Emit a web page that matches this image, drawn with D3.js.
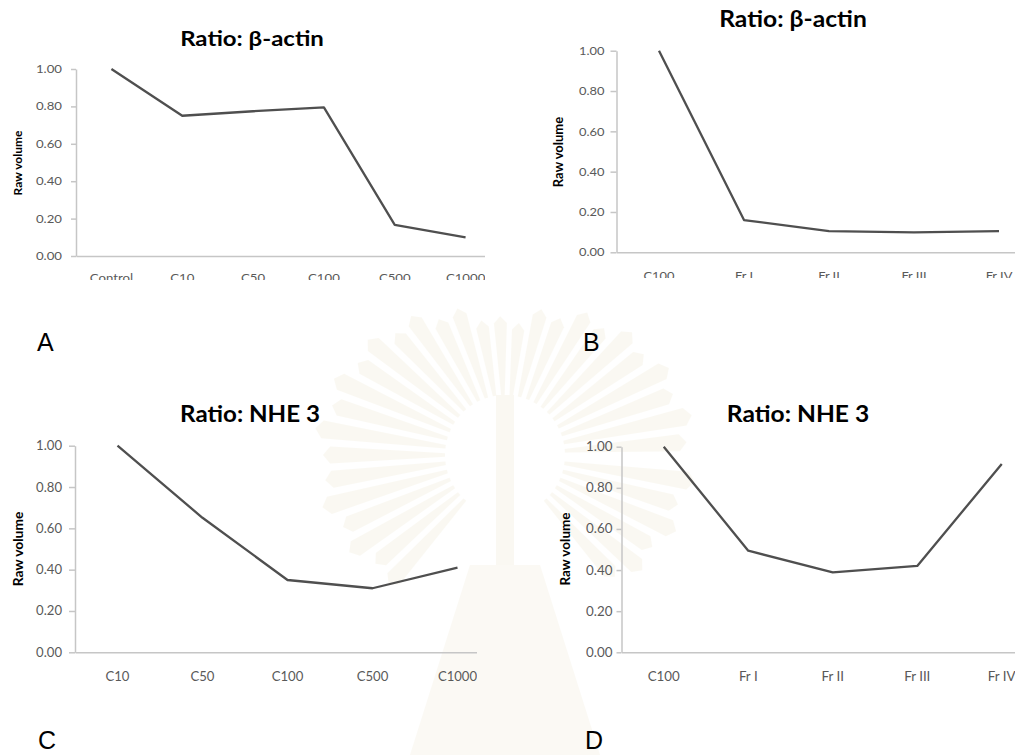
<!DOCTYPE html>
<html>
<head>
<meta charset="utf-8">
<script src="https://cdn.jsdelivr.net/npm/d3@7"></script>
<style>
  html, body { margin: 0; padding: 0; background: #ffffff; }
  svg { display: block; }
</style>
</head>
<body>
<svg id="fig" width="1015" height="755"></svg>
<script>
// ---- data ----
const catsA = ["Control", "C10", "C50", "C100", "C500", "C1000"];
const valsA = [1.00, 0.75, 0.774, 0.795, 0.166, 0.10];

const catsB = ["C100", "Fr I", "Fr II", "Fr III", "Fr IV"];
const valsB = [1.00, 0.16, 0.105, 0.099, 0.105];

const catsC = ["C10", "C50", "C100", "C500", "C1000"];
const valsC = [1.00, 0.651, 0.35, 0.31, 0.41];

const catsD = ["C100", "Fr I", "Fr II", "Fr III", "Fr IV"];
const valsD = [1.00, 0.494, 0.389, 0.42, 0.916];

const yTicks = [0, 0.2, 0.4, 0.6, 0.8, 1.0];
const titles = ["Ratio: β-actin", "Ratio: β-actin", "Ratio: NHE 3", "Ratio: NHE 3"];
const letters = ["A", "B", "C", "D"];
const yTitle = "Raw volume";

// ---- layout of the four panels ----
const layout = [
  { cats: catsA, vals: valsA, x0: 76, xEnd: 501, yBottom: 256, yTop: 69,
    clip: [0, 0, 485, 280], titleX: 252, titleY: 46, titleSize: 20, sx: 1.2,
    tickSize: 11, tick: 5, tickPad: 9, catTop: 18, yLabX: 22, yLabY: 163, yLabSize: 12,
    letterX: 37, letterY: 351 },
  { cats: catsB, vals: valsB, x0: 616.5, xEnd: 1041.5, yBottom: 252.3, yTop: 50.7,
    clip: [500, 0, 515, 278], titleX: 793, titleY: 26.7, titleSize: 22, sx: 1.12,
    tickSize: 11.5, tick: 6, tickPad: 6, catTop: 19.5, yLabX: 563, yLabY: 152, yLabSize: 13,
    letterX: 583, letterY: 351 },
  { cats: catsC, vals: valsC, x0: 75, xEnd: 500, yBottom: 652.3, yTop: 445.7,
    clip: [0, 380, 477, 375], titleX: 250, titleY: 421.7, titleSize: 23, sx: 1.05,
    tickSize: 12.5, tick: 6, tickPad: 7, catTop: 19.4, yLabX: 23, yLabY: 549, yLabSize: 13.8,
    letterX: 38, letterY: 749 },
  { cats: catsD, vals: valsD, x0: 621.5, xEnd: 1044, yBottom: 652.3, yTop: 446.7,
    clip: [500, 380, 515, 375], titleX: 798, titleY: 421.7, titleSize: 23, sx: 1.07,
    tickSize: 12.5, tick: 5, tickPad: 4, catTop: 19.4, yLabX: 570, yLabY: 549, yLabSize: 13.5,
    letterX: 585, letterY: 749 }
];

const svg = d3.select("#fig");
const defs = svg.append("defs");

// ---- very faint emblem behind the charts: rays, stem and base ----
const wm = svg.append("g").attr("opacity", 0.3);
const cx = 505, cy = 455;
const rayAngles = d3.range(-180, 1, 8).concat(d3.range(8, 50, 8), d3.range(132, 180, 8));
rayAngles.forEach((a, i) => {
  const t = a * Math.PI / 180, w = 2.8 * Math.PI / 180;
  const r0 = 60, r1 = 120 + 55 * Math.abs(Math.cos(t)) + (i % 2) * 10;
  const p = [
    [cx + r0 * Math.cos(t - w * 0.6), cy + r0 * Math.sin(t - w * 0.6)],
    [cx + r1 * Math.cos(t - w), cy + r1 * Math.sin(t - w)],
    [cx + (r1 + 7) * Math.cos(t), cy + (r1 + 7) * Math.sin(t)],
    [cx + r1 * Math.cos(t + w), cy + r1 * Math.sin(t + w)],
    [cx + r0 * Math.cos(t + w * 0.6), cy + r0 * Math.sin(t + w * 0.6)]
  ];
  wm.append("path").attr("d", d3.line()(p) + "Z").attr("fill", "#f1ebd6");
});
wm.append("rect").attr("x", 496).attr("y", 395).attr("width", 18).attr("height", 170)
  .attr("fill", "#f1ebd6");
wm.append("path")
  .attr("d", d3.line()([[470, 565], [540, 565], [600, 755], [410, 755]]) + "Z")
  .attr("fill", "#f3eedc");

// ---- panels ----
layout.forEach((L, i) => {
  const id = "clip" + i;
  defs.append("clipPath").attr("id", id).append("rect")
    .attr("x", L.clip[0]).attr("y", L.clip[1]).attr("width", L.clip[2]).attr("height", L.clip[3]);

  const g = svg.append("g").attr("clip-path", `url(#${id})`);

  const x = d3.scaleBand().domain(L.cats).range([L.x0, L.xEnd]);
  const y = d3.scaleLinear().domain([0, 1]).range([L.yBottom, L.yTop]);

  // y axis
  const ya = g.append("g").attr("transform", `translate(${L.x0},0)`)
    .call(d3.axisLeft(y).tickValues(yTicks).tickFormat(d3.format(".2f"))
      .tickSizeInner(L.tick).tickSizeOuter(0).tickPadding(L.tickPad));
  ya.select(".domain").attr("stroke", "#c6c6c6").attr("stroke-width", 1.5);
  ya.selectAll(".tick line").attr("stroke", "#c6c6c6").attr("stroke-width", 1.5);
  ya.selectAll(".tick text")
    .attr("x", -(L.tick + L.tickPad) / L.sx)
    .attr("transform", `scale(${L.sx},1)`)
    .attr("fill", "#595959")
    .style("font-family", "Lato, 'Open Sans', sans-serif")
    .style("font-size", L.tickSize + "px");

  // x axis
  const xa = g.append("g").attr("transform", `translate(0,${L.yBottom})`)
    .call(d3.axisBottom(x).tickSize(0).tickPadding(L.catTop));
  xa.select(".domain").attr("stroke", "#c6c6c6").attr("stroke-width", 1.5);
  xa.selectAll(".tick text")
    .attr("transform", `scale(${L.sx},1)`)
    .attr("fill", "#595959")
    .style("font-family", "Lato, 'Open Sans', sans-serif")
    .style("font-size", L.tickSize + "px");

  // data line
  const line = d3.line()
    .x(d => x(d.c) + x.bandwidth() / 2)
    .y(d => y(d.v));
  g.append("path")
    .datum(L.cats.map((c, k) => ({ c, v: L.vals[k] })))
    .attr("d", line)
    .attr("fill", "none")
    .attr("stroke", "#4f4f4f")
    .attr("stroke-width", 2.3)
    .attr("stroke-linejoin", "round");

  // chart title
  svg.append("g").attr("transform", `translate(${L.titleX},${L.titleY}) scale(${L.sx},1)`)
    .append("text")
    .attr("text-anchor", "middle")
    .attr("fill", "#000000")
    .style("font-family", "Lato, 'Open Sans', sans-serif")
    .style("font-weight", "bold")
    .style("font-size", L.titleSize + "px")
    .text(titles[i]);

  // y axis title
  svg.append("text")
    .attr("transform", `translate(${L.yLabX},${L.yLabY}) rotate(-90)`)
    .attr("text-anchor", "middle")
    .attr("fill", "#000000")
    .style("font-family", "Lato, 'Open Sans', sans-serif")
    .style("font-weight", "bold")
    .style("font-size", L.yLabSize + "px")
    .text(yTitle);

  // panel letter
  svg.append("text")
    .attr("x", L.letterX).attr("y", L.letterY)
    .attr("fill", "#000000")
    .style("font-family", "'Liberation Sans', Arial, sans-serif")
    .style("font-size", "25px")
    .text(letters[i]);
});
</script>
</body>
</html>
